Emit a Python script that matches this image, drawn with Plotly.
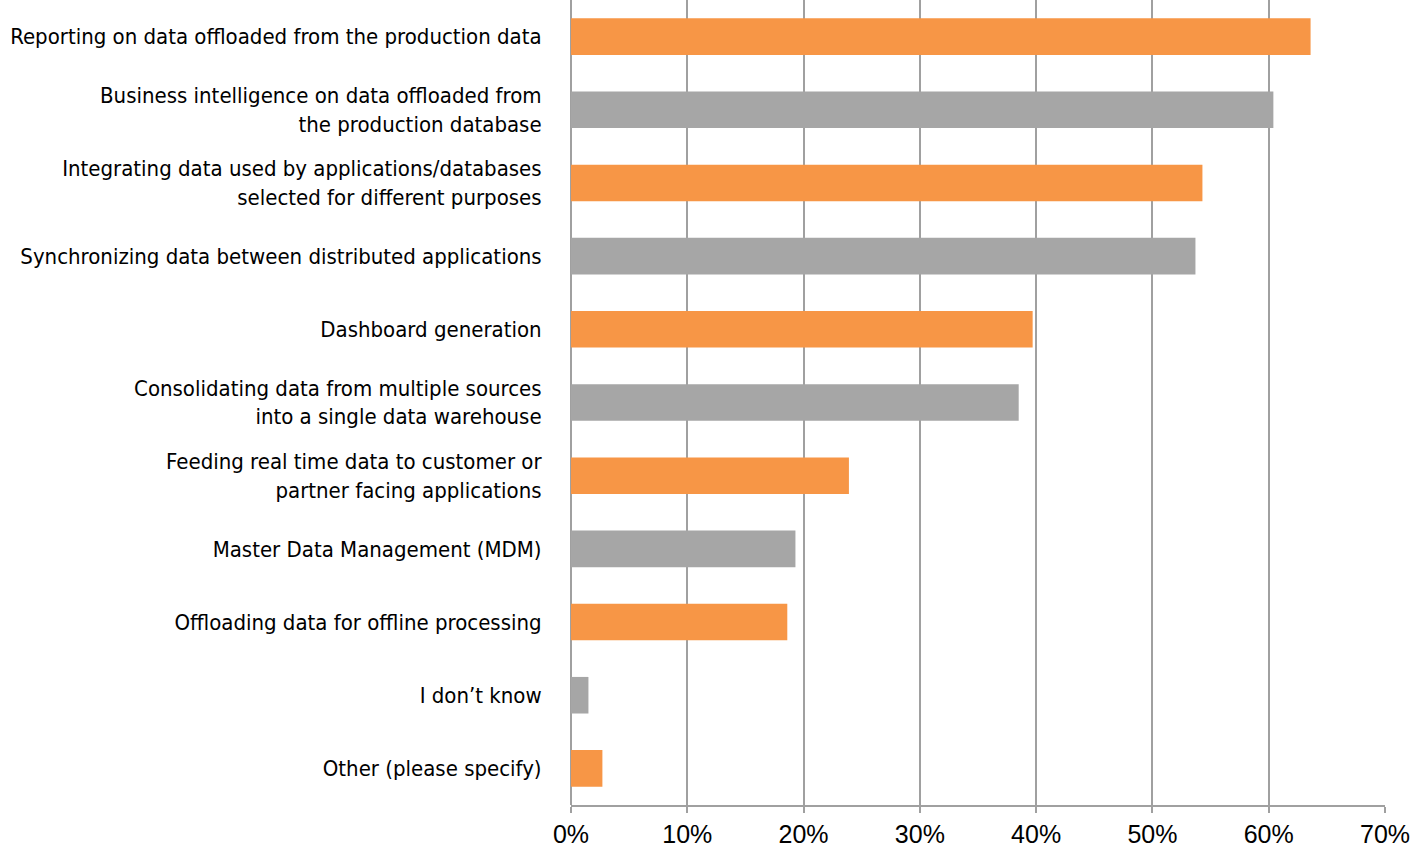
import plotly.graph_objects as go

ORANGE = "#F79646"
GREY = "#A6A6A6"
GRID = "#A0A0A0"
LABEL_FONT = "DejaVu Sans Condensed, Liberation Sans Narrow, sans-serif"
TICK_FONT = "Liberation Sans, Arimo, Arial, Helvetica, sans-serif"

categories = [
    "Reporting on data offloaded from the production data",
    "Business intelligence on data offloaded from<br>the production database",
    "Integrating data used by applications/databases<br>selected for different purposes",
    "Synchronizing data between distributed applications",
    "Dashboard generation",
    "Consolidating data from multiple sources<br>into a single data warehouse",
    "Feeding real time data to customer or<br>partner facing applications",
    "Master Data Management (MDM)",
    "Offloading data for offline processing",
    "I don\u2019t know",
    "Other (please specify)",
]
percent = [63.6, 60.4, 54.3, 53.7, 39.7, 38.5, 23.9, 19.3, 18.6, 1.5, 2.7]
bar_colors = [ORANGE if i % 2 == 0 else GREY for i in range(len(categories))]

x_ticks = [0, 10, 20, 30, 40, 50, 60, 70]
x_tick_text = [f"{v}%" for v in x_ticks]

fig = go.Figure(
    data=[go.Bar(
        y=categories,
        x=percent,
        orientation="h",
        width=0.5,
        marker_color=bar_colors,
        marker_line_width=0,
        hovertemplate="%{y}: %{x}%<extra></extra>",
    )]
)

fig.update_layout(
    width=1412,
    height=849,
    margin={"l": 571, "r": 27, "t": 0, "b": 44},
    paper_bgcolor="white",
    plot_bgcolor="white",
    showlegend=False,
    font={"family": LABEL_FONT, "size": 22, "color": "black"},
)

fig.update_xaxes(
    range=[0, 70],
    tickmode="array",
    tickvals=x_ticks,
    ticktext=x_tick_text,
    tickfont={"family": TICK_FONT, "size": 25, "color": "black"},
    showgrid=True,
    gridcolor=GRID,
    gridwidth=2,
    zeroline=True,
    zerolinecolor=GRID,
    zerolinewidth=2,
    showline=True,
    linecolor=GRID,
    linewidth=2,
    ticks="outside",
    ticklen=6,
    tickwidth=2,
    tickcolor=GRID,
    automargin=False,
    fixedrange=True,
)

fig.update_yaxes(
    autorange="reversed",
    showgrid=False,
    showline=False,
    ticks="outside",
    ticklen=24,
    tickcolor="rgba(0,0,0,0)",
    tickfont={"family": LABEL_FONT, "size": 22, "color": "black"},
    automargin=False,
    fixedrange=True,
)

# drop the page's default body margin so the figure sits at the window corner
fig.write_html(
    "out.html",
    config={"displayModeBar": False},
    post_script="document.body.style.margin='0';",
)
